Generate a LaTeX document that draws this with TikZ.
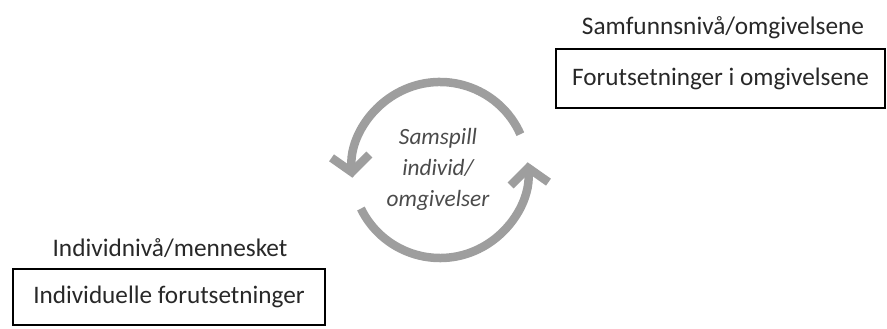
\documentclass[tikz,border=0pt]{standalone}
\usepackage{fontspec}
\setmainfont{Carlito}
\usetikzlibrary{arrows.meta}
\definecolor{arcgray}{RGB}{158,158,158}
\definecolor{txtdark}{RGB}{40,40,40}
\definecolor{txtmid}{RGB}{75,75,75}
\tikzset{
  header/.style={text=txtdark, font=\fontsize{25.3}{30}\selectfont, inner sep=0pt},
  levelbox/.style={draw=black, line width=1.4pt, text=txtdark, font=\fontsize{25.2}{30}\selectfont, inner sep=0pt},
  cycle/.style={draw=arcgray, line width=8.5pt, -{Straight Barb[length=16pt,width=38pt]}},
  centertext/.style={text=txtmid, align=center, font=\fontsize{23.3}{31}\selectfont\itshape, inner sep=0pt}
}
\begin{document}
\begin{tikzpicture}[x=1pt,y=1pt]
\path[use as bounding box] (0,0) rectangle (887,329);
% top right
\node[header] (samfH) at (723,301) {Samfunnsnivå/omgivelsene};
\node[levelbox, minimum width=329pt, minimum height=59pt] (samfB) at (720.5,250.5) {Forutsetninger i omgivelsene};
% bottom left
\node[header] (indH) at (170,81) {Individnivå/mennesket};
\node[levelbox, minimum width=312pt, minimum height=56pt] (indB) at (169,32) {Individuelle forutsetninger};
% centre
\coordinate (c) at (440,159);
\node[centertext] (samspill) at (438,160) {Samspill\\individ/\\omgivelser};
\draw[cycle] ([shift={(24:88)}]c) arc[start angle=24, end angle=185, radius=88];
\draw[cycle] ([shift={(206:88)}]c) arc[start angle=206, end angle=365, radius=88];
\end{tikzpicture}
\end{document}
